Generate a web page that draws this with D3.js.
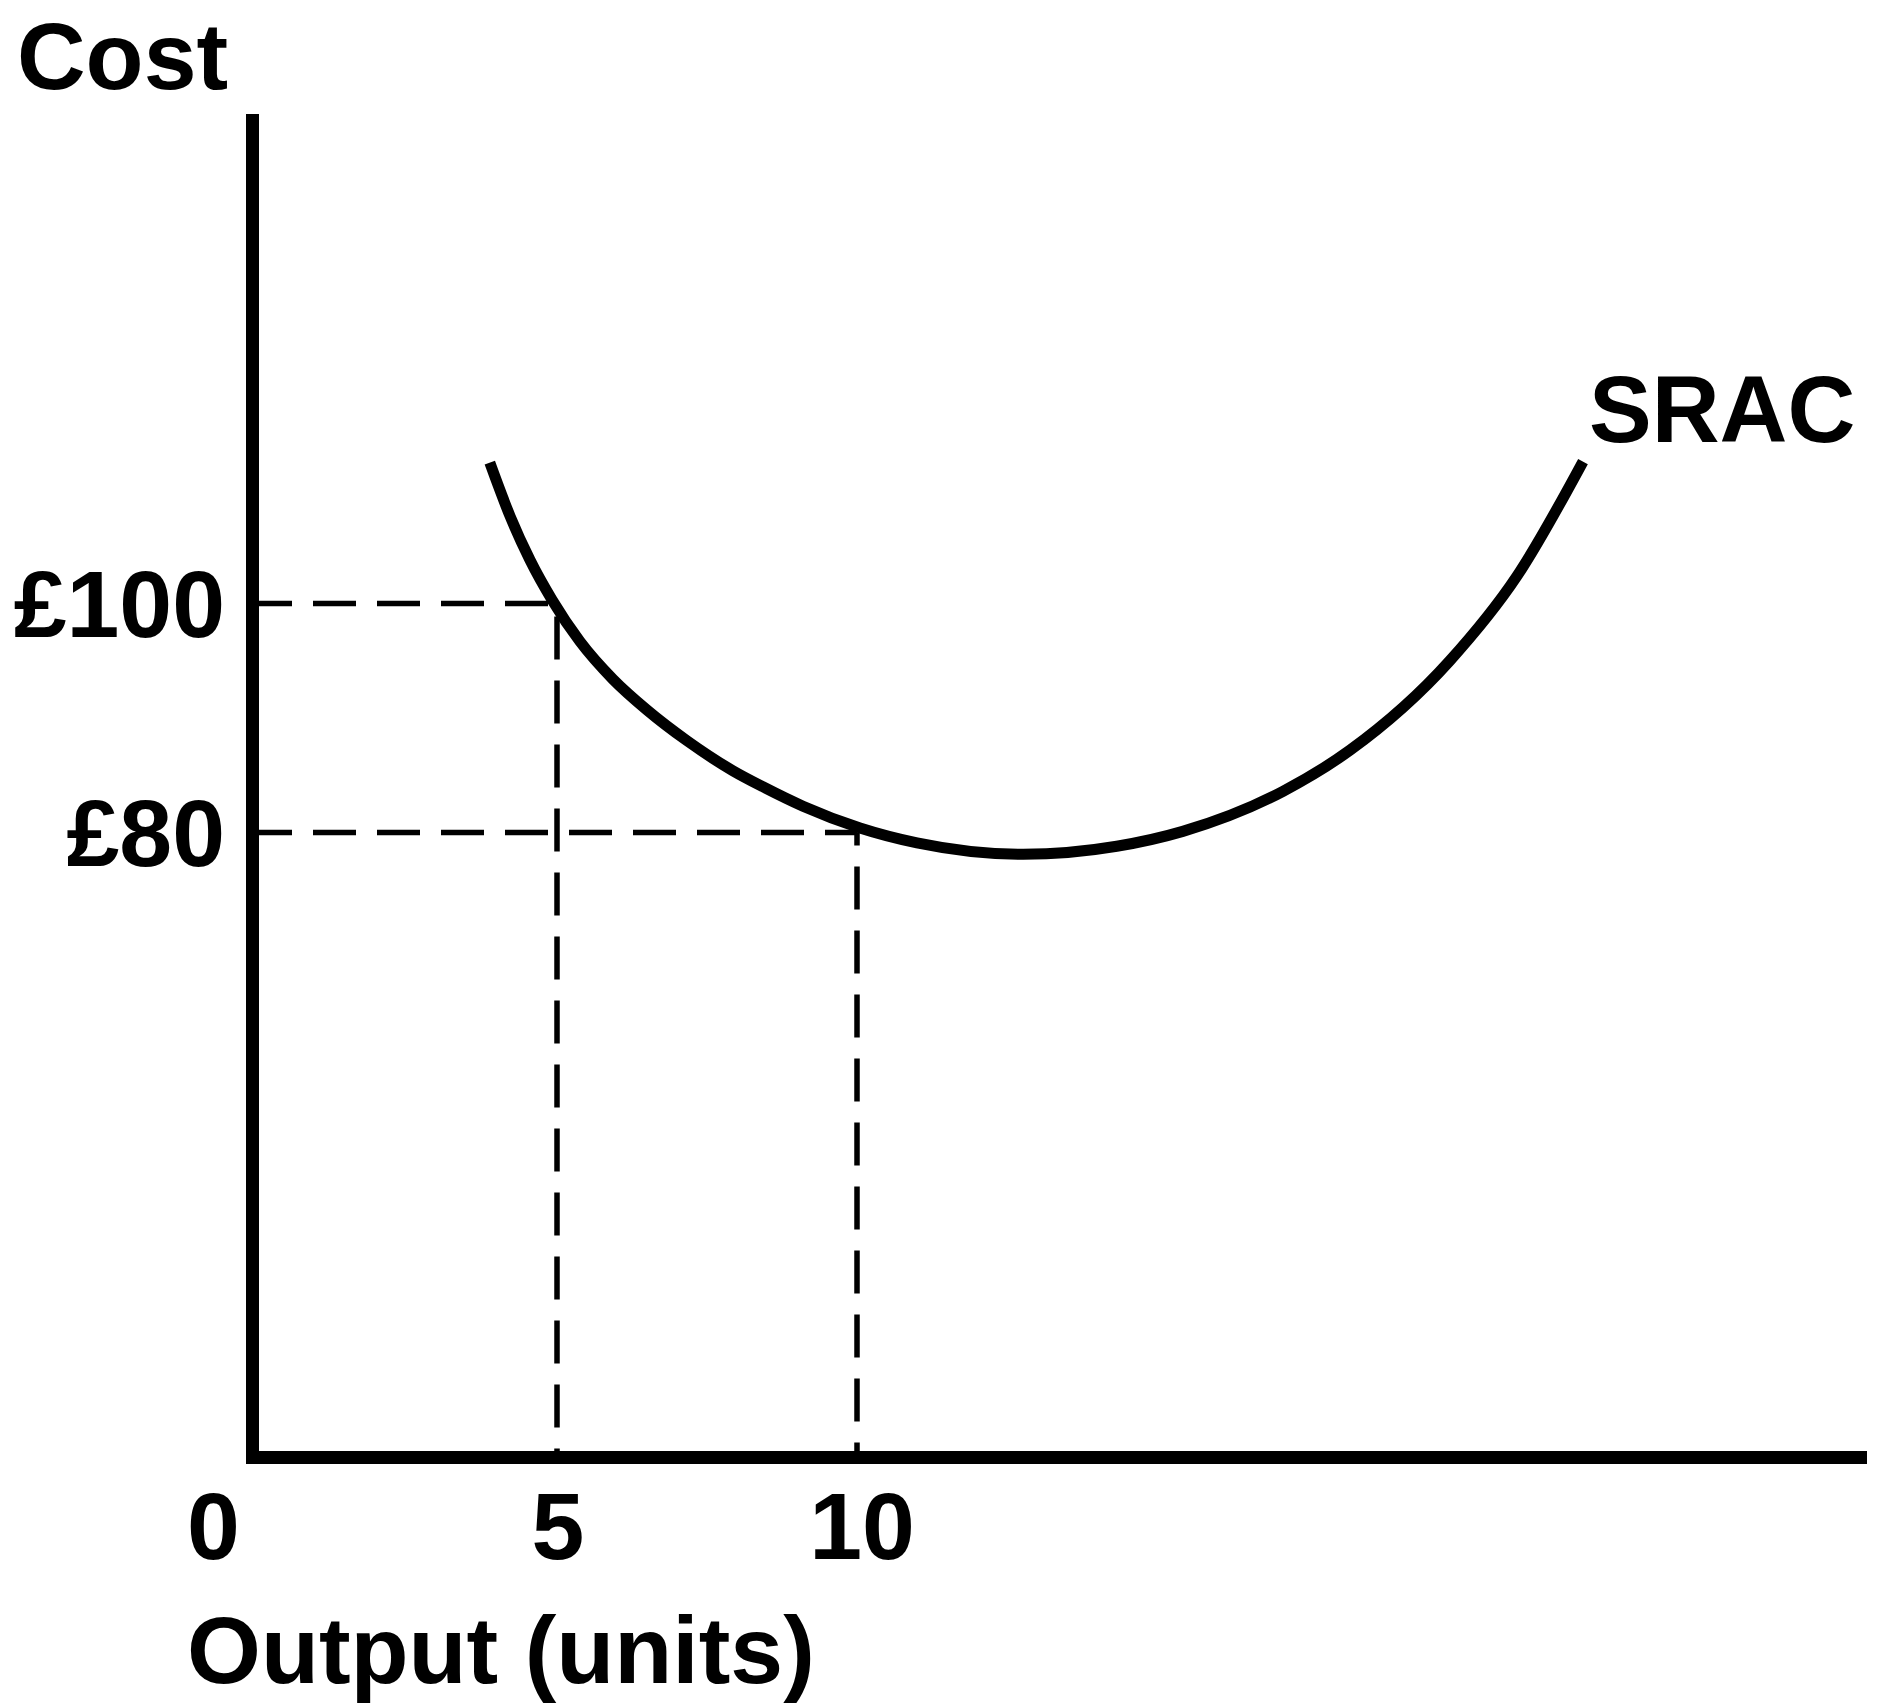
<!DOCTYPE html>
<html>
<head>
<meta charset="utf-8">
<script src="https://cdn.jsdelivr.net/npm/d3@7"></script>
<style>
  html, body { margin: 0; padding: 0; background: #fff; }
  text { font-family: "Liberation Sans", Arial, sans-serif; font-weight: bold; fill: #000; }
</style>
</head>
<body>
<div id="chart"></div>
<script>
// SRAC curve (output units, cost in £)
const sracOutput = [3.88, 4.22, 4.55, 4.92, 5.38, 5.93, 6.5, 7.17, 7.93, 8.43, 9.1, 10.05, 11.0, 12.77, 14.33, 15.43, 17.1, 18.22, 19.88, 21.0, 22.1];
const sracCost   = [112.3, 107.6, 103.8, 100.3, 96.7, 93.4, 90.7, 88.0, 85.4, 84.0, 82.3, 80.4, 79.1, 78.1, 78.8, 80.1, 83.6, 87.2, 95.0, 102.4, 112.4];

const costTicks  = [100, 80];
const costLabels = ["£100", "£80"];
const outputTicks  = [0, 5, 10];
const outputLabels = ["0", "5", "10"];

// dashed guides: output level -> cost level
const guideOutput = [5, 10];
const guideCost   = [100, 80];

function CostChart(){

	function exports(){
		const root = this;
		const width = 1878;
		const height = 1703;

		const axisX = 252.5;
		const axisY = 1457.5;
		const axisTop = 114;
		const axisRight = 1867;

		const x = d3.scaleLinear().domain([0, 10]).range([257, 857]);
		const y = d3.scaleLinear().domain([80, 100]).range([832.5, 603.5]);

		const svg = d3.select(root)
			.append('svg')
			.attr('width', width)
			.attr('height', height);

		// dashed guides
		const dash = '43,21';
		guideOutput.forEach(function(q, i){
			const c = guideCost[i];
			svg.append('line')
				.attr('x1', axisX - 3.5).attr('y1', y(c))
				.attr('x2', x(q)).attr('y2', y(c))
				.attr('stroke', '#000').attr('stroke-width', 5.5)
				.attr('stroke-dasharray', dash);
			svg.append('line')
				.attr('x1', x(q)).attr('y1', y(c))
				.attr('x2', x(q)).attr('y2', axisY - 6)
				.attr('stroke', '#000').attr('stroke-width', 5.5)
				.attr('stroke-dasharray', dash)
				.attr('stroke-dashoffset', i === 0 ? 51 : 30);
		});

		// curve
		const pts = sracOutput.map(function(q, i){ return [q, sracCost[i]]; });
		const line = d3.line()
			.x(function(d){ return x(d[0]); })
			.y(function(d){ return y(d[1]); })
			.curve(d3.curveMonotoneX);

		svg.append('path')
			.datum(pts)
			.attr('d', line)
			.attr('fill', 'none')
			.attr('stroke', '#000')
			.attr('stroke-width', 11);

		// axes
		svg.append('line')
			.attr('x1', axisX).attr('y1', axisTop)
			.attr('x2', axisX).attr('y2', axisY + 6.5)
			.attr('stroke', '#000').attr('stroke-width', 13);
		svg.append('line')
			.attr('x1', axisX - 6.5).attr('y1', axisY)
			.attr('x2', axisRight).attr('y2', axisY)
			.attr('stroke', '#000').attr('stroke-width', 13);

		// labels
		svg.selectAll('.ylab')
			.data(costTicks)
		  .enter().append('text')
			.attr('class', 'ylab')
			.attr('x', 225)
			.attr('y', function(d){ return y(d) + 33; })
			.attr('text-anchor', 'end')
			.style('font-size', '95px')
			.text(function(d, i){ return costLabels[i]; });

		svg.selectAll('.xlab')
			.data(outputTicks)
		  .enter().append('text')
			.attr('class', 'xlab')
			.attr('x', function(d){ return d === 0 ? axisX - 39 : x(d) + (d === 10 ? 5 : 1); })
			.attr('y', 1559)
			.attr('text-anchor', 'middle')
			.style('font-size', '95px')
			.text(function(d, i){ return outputLabels[i]; });

		svg.append('text')
			.attr('x', 17).attr('y', 89)
			.style('font-size', '95px')
			.text('Cost');

		svg.append('text')
			.attr('x', 187).attr('y', 1683)
			.style('font-size', '95px')
			.text('Output (units)');

		svg.append('text')
			.attr('x', 1589).attr('y', 442)
			.style('font-size', '94px')
			.text('SRAC');
	}

	return exports;
}

d3.select('#chart').each(CostChart());
</script>
</body>
</html>
